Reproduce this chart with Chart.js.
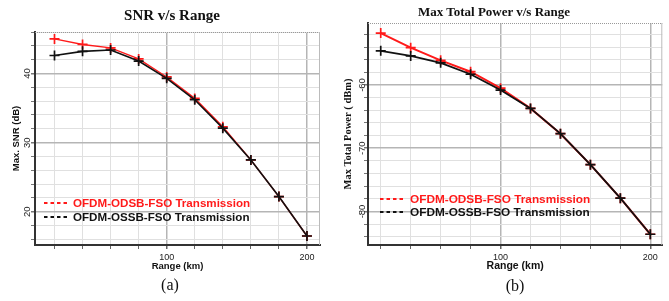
<!DOCTYPE html>
<html>
<head>
<meta charset="utf-8">
<script src="https://cdn.jsdelivr.net/npm/chart.js@4.4.1/dist/chart.umd.min.js"></script>
<style>
  html, body { margin: 0; padding: 0; background: #fff; }
  #wrap { position: relative; width: 669px; height: 301px; overflow: hidden; }
  .panel { position: absolute; top: 0; }
  .lbl { position: absolute; white-space: nowrap; transform: translate(-50%, -50%);
         font-family: "Liberation Serif", "Times New Roman", serif; color: #111; }
</style>
</head>
<body>
<div id="wrap">
  <canvas id="snrChart" class="panel" style="left:0" width="335" height="301"></canvas>
  <canvas id="powerChart" class="panel" style="left:335px" width="334" height="301"></canvas>
  <div class="lbl" style="left:172px;top:15px;font-size:15px;font-weight:bold">SNR v/s Range</div>
  <div class="lbl" style="left:494px;top:12px;font-size:13px;font-weight:bold">Max Total Power v/s Range</div>
  <div class="lbl" style="left:170px;top:285px;font-size:16px">(a)</div>
  <div class="lbl" style="left:515px;top:286px;font-size:16px">(b)</div>
</div>
<script>
// Range in km
const rangeKm = [20, 40, 60, 80, 100, 120, 140, 160, 180, 200];

// Max SNR (dB)
const snrOdsb = [45.0, 44.2, 43.7, 42.1, 39.5, 36.4, 32.3, 27.5, 22.2, 16.5];
const snrOssb = [42.6, 43.2, 43.4, 41.8, 39.3, 36.2, 32.1, 27.5, 22.2, 16.5];

// Max total power (dBm)
const powerOdsb = [-51.8, -54.1, -56.1, -57.9, -60.5, -63.7, -67.7, -72.6, -77.9, -83.6];
const powerOssb = [-54.6, -55.4, -56.5, -58.3, -60.8, -63.7, -67.7, -72.6, -77.9, -83.6];

// tick labels
const rangeTicks = [100, 200];
const snrTicks = [20, 30, 40];
const powerTicks = [-80, -70, -60];

const seriesNames = ["OFDM-ODSB-FSO Transmission", "OFDM-OSSB-FSO Transmission"];

function isMult(v, m) {
  return Math.abs(v - Math.round(v / m) * m) < 1e-6;
}

// even values inside the axis range, for the minor grid
function evenTicks(scale) {
  const out = [];
  for (let v = Math.ceil(scale.min / 2) * 2; v <= scale.max; v += 2) out.push({ value: v });
  return out;
}

// y labels are drawn rotated, like the original plot
const rotatedYLabels = {
  id: "rotatedYLabels",
  afterDraw(chart, args, o) {
    const ctx = chart.ctx;
    const y = chart.scales.y;
    ctx.save();
    ctx.font = o.font;
    ctx.fillStyle = "#222";
    ctx.textAlign = "center";
    ctx.textBaseline = "middle";
    o.values.forEach(v => {
      ctx.save();
      ctx.translate(o.x, y.getPixelForValue(v));
      ctx.rotate(-Math.PI / 2);
      ctx.fillText(String(v), 0, 0);
      ctx.restore();
    });
    ctx.restore();
  }
};

// top (dotted) and right edges of the plot box
const plotFrame = {
  id: "plotFrame",
  beforeDatasetsDraw(chart) {
    const { ctx, chartArea: a } = chart;
    ctx.save();
    ctx.strokeStyle = "#999";
    ctx.lineWidth = 1;
    ctx.setLineDash([1, 1]);
    ctx.beginPath();
    ctx.moveTo(a.left, a.top + 0.5);
    ctx.lineTo(a.right, a.top + 0.5);
    ctx.stroke();
    ctx.setLineDash([]);
    ctx.strokeStyle = "#bbb";
    ctx.beginPath();
    ctx.moveTo(a.right - 0.5, a.top);
    ctx.lineTo(a.right - 0.5, a.bottom);
    ctx.stroke();
    ctx.restore();
  }
};

// dashed legend inside the plot
const dashLegend = {
  id: "dashLegend",
  afterDraw(chart, args, o) {
    const ctx = chart.ctx;
    const sets = chart.data.datasets.slice().sort((p, q) => p.legendIndex - q.legendIndex);
    ctx.save();
    ctx.font = o.font;
    ctx.textBaseline = "middle";
    sets.forEach((ds, i) => {
      const yy = o.y + i * o.rowGap;
      ctx.strokeStyle = ds.borderColor;
      ctx.lineWidth = 2;
      ctx.setLineDash([3.5, 3]);
      ctx.beginPath();
      ctx.moveTo(o.x, yy);
      ctx.lineTo(o.x + o.lineLen, yy);
      ctx.stroke();
      ctx.fillStyle = ds.borderColor;
      ctx.fillText(ds.label, o.textX, yy + 0.5);
    });
    ctx.restore();
  }
};

function makeChart(id, odsb, ossb, cfg) {
  const lineSet = (label, data, color, width, legendIndex) => ({
    label: label,
    data: rangeKm.map((x, i) => ({ x: x, y: data[i] })),
    borderColor: color,
    backgroundColor: color,
    borderWidth: width,
    pointStyle: "cross",
    pointRadius: 5,
    pointBorderWidth: 1.7,
    tension: 0,
    fill: false,
    legendIndex: legendIndex
  });

  return new Chart(document.getElementById(id), {
    type: "line",
    data: {
      datasets: [
        lineSet(seriesNames[1], ossb, "#111111", cfg.blackWidth, 1),
        lineSet(seriesNames[0], odsb, "#ff1a1a", cfg.redWidth, 0)
      ]
    },
    options: {
      responsive: false,
      animation: false,
      layout: { padding: cfg.padding },
      scales: {
        x: {
          type: "linear",
          min: cfg.xMin,
          max: cfg.xMax,
          afterFit: s => { s.height = 27; },
          afterBuildTicks: s => { s.ticks = rangeKm.map(v => ({ value: v })); },
          border: { color: "#333", width: 2 },
          grid: {
            color: c => rangeTicks.includes(c.tick.value) ? "#b5b5b5" : "#e0e0e0",
            lineWidth: c => rangeTicks.includes(c.tick.value) ? 1.5 : 1,
            tickColor: "#666",
            tickLength: 4
          },
          ticks: {
            autoSkip: false,
            maxRotation: 0,
            padding: 3,
            color: "#222",
            font: { family: "Liberation Sans", size: 9 },
            callback: v => rangeTicks.includes(v) ? String(v) : ""
          },
          title: {
            display: true,
            text: "Range (km)",
            color: "#111",
            padding: 0,
            font: { family: "Liberation Sans", size: cfg.xTitleSize, weight: "bold" }
          }
        },
        y: {
          min: cfg.yMin,
          max: cfg.yMax,
          afterFit: s => { s.width = cfg.yWidth; },
          afterBuildTicks: s => { s.ticks = evenTicks(s); },
          border: { color: "#333", width: 2 },
          grid: {
            color: c => isMult(c.tick.value, 10) ? "#b5b5b5" : "#e0e0e0",
            lineWidth: c => isMult(c.tick.value, 10) ? 1.5 : 1,
            tickColor: "#777",
            tickLength: 4
          },
          ticks: { display: false },
          title: {
            display: true,
            text: cfg.yTitle,
            color: "#111",
            padding: { top: cfg.yTitlePad, bottom: 0 },
            font: cfg.yTitleFont
          }
        }
      },
      plugins: {
        legend: { display: false },
        tooltip: { enabled: false },
        rotatedYLabels: { values: cfg.yTicks, x: cfg.yLabelX, font: "9.5px 'Liberation Sans'" },
        dashLegend: cfg.legend
      }
    },
    plugins: [plotFrame, rotatedYLabels, dashLegend]
  });
}

makeChart("snrChart", snrOdsb, snrOssb, {
  xMin: 6.1, xMax: 209.3, yMin: 15.2, yMax: 46,
  padding: { left: 0, right: 15, top: 32, bottom: 29 },
  yWidth: 35, yTicks: snrTicks, yLabelX: 27,
  yTitle: "Max. SNR (dB)", yTitlePad: 11,
  yTitleFont: { family: "Liberation Sans", size: 9.5, weight: "bold" },
  xTitleSize: 9.5,
  redWidth: 1.4, blackWidth: 1.6,
  legend: { x: 44, y: 203, rowGap: 14, lineLen: 25, textX: 73, font: "bold 11.6px 'Liberation Sans'" }
});

makeChart("powerChart", powerOdsb, powerOssb, {
  xMin: 11.5, xMax: 208, yMin: -85.3, yMax: -50.2,
  padding: { left: 0, right: 6, top: 23, bottom: 29 },
  yWidth: 33, yTicks: powerTicks, yLabelX: 27,
  yTitle: "Max Total Power ( dBm)", yTitlePad: 7,
  yTitleFont: { family: "Liberation Serif", size: 10.5, weight: "bold" },
  xTitleSize: 10.5,
  redWidth: 2, blackWidth: 1.8,
  legend: { x: 45, y: 199, rowGap: 13, lineLen: 25, textX: 75, font: "bold 11.8px 'Liberation Sans'" }
});
</script>
</body>
</html>
